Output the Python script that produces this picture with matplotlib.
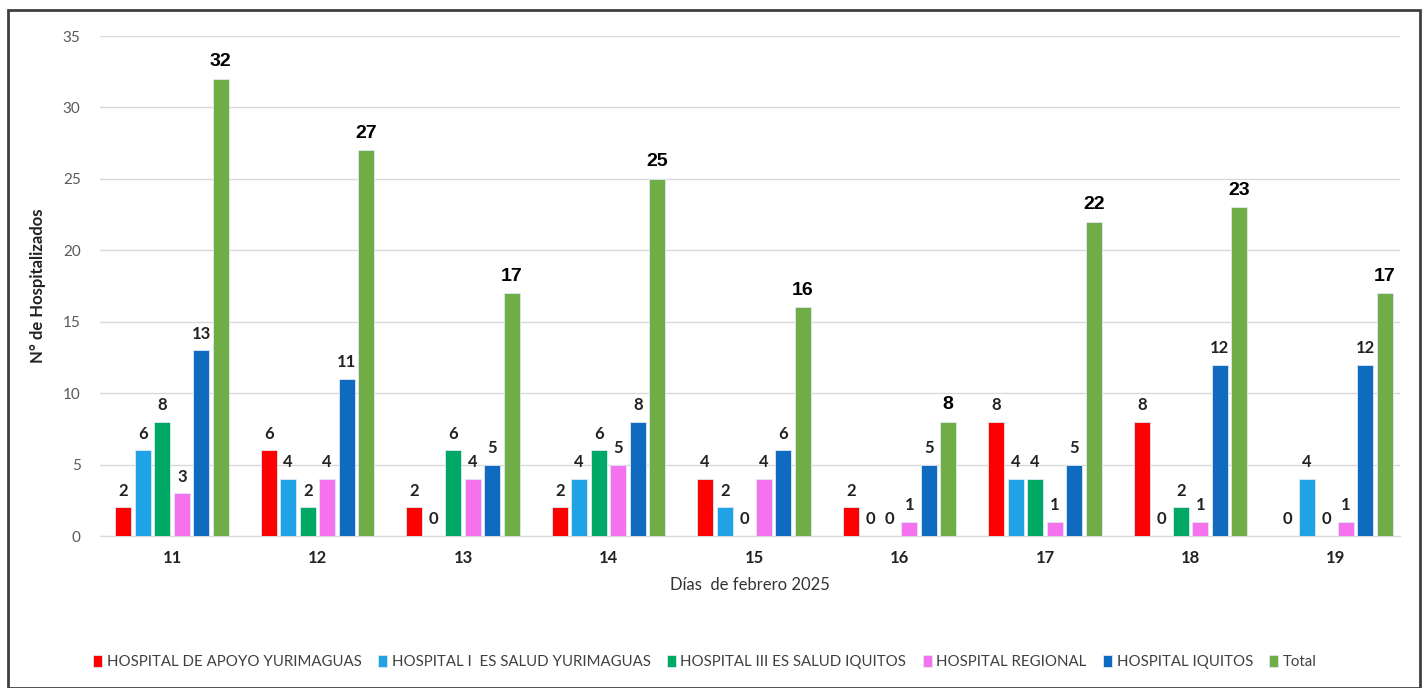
import numpy as np
import matplotlib
matplotlib.use('Agg')
import matplotlib.pyplot as plt
from matplotlib.patches import Rectangle

plt.rcParams['font.family'] = ['Lato', 'DejaVu Sans']

days = ['11', '12', '13', '14', '15', '16', '17', '18', '19']
series_names = ['HOSPITAL DE APOYO YURIMAGUAS', 'HOSPITAL I  ES SALUD YURIMAGUAS',
                'HOSPITAL III ES SALUD IQUITOS', 'HOSPITAL REGIONAL',
                'HOSPITAL IQUITOS', 'Total']
apoyo_yurimaguas = [2, 6, 2, 2, 4, 2, 8, 8, 0]
essalud_yurimaguas = [6, 4, 0, 4, 2, 0, 4, 0, 4]
essalud_iquitos = [8, 2, 6, 6, 0, 0, 4, 2, 0]
regional = [3, 4, 4, 5, 4, 1, 1, 1, 1]
iquitos = [13, 11, 5, 8, 6, 5, 5, 12, 12]
total = [32, 27, 17, 25, 16, 8, 22, 23, 17]
colors = ['#ff0000', '#1fa2e6', '#00a865', '#f472ee', '#0f6bbf', '#70ad47']

all_series = [apoyo_yurimaguas, essalud_yurimaguas, essalud_iquitos,
              regional, iquitos, total]

fig = plt.figure(figsize=(14.28, 6.88), dpi=100)
ax = fig.add_axes([100 / 1428, 1 - 536 / 688, 1300 / 1428, 500 / 688])

# frame around the whole chart
fig.patches.append(Rectangle((8 / 1428, 0.0), 1412 / 1428, 1 - 10 / 688,
                             transform=fig.transFigure, fill=False,
                             edgecolor='#404040', linewidth=2))

x = np.arange(len(days))
slot = 0.134
width = 0.11
for i, vals in enumerate(all_series):
    pos = x + (i - 2.5) * slot
    ax.bar(pos, vals, width, color=colors[i], label=series_names[i],
           edgecolor='#dfe9f5', linewidth=0.6, zorder=3)
    for p, v in zip(pos, vals):
        if i == 5:
            ax.text(p, v + 0.6, str(v), ha='center', va='bottom',
                    fontsize=14, fontweight='bold', family=['Liberation Sans'])
        else:
            ax.text(p, v + 0.6, str(v), ha='center', va='bottom',
                    fontsize=12, fontweight='bold', color='#222222')

ax.set_ylim(0, 35)
ax.set_xlim(-0.495, 8.44)
ax.set_yticks(range(0, 36, 5))
ax.yaxis.grid(True, color='#d9d9d9', linewidth=1, zorder=0)
ax.set_axisbelow(True)
for s in ['top', 'right', 'left']:
    ax.spines[s].set_visible(False)
ax.spines['bottom'].set_color('#d9d9d9')
ax.tick_params(axis='both', length=0)
ax.tick_params(axis='y', labelsize=11, labelcolor='#595959', pad=14)
ax.set_xticks(x)
ax.set_xticklabels(days, fontsize=12, fontweight='bold', color='#222222')
ax.tick_params(axis='x', pad=10)
ax.set_xlabel('Días  de febrero 2025', fontsize=12, color='#333333', labelpad=8)
ax.set_ylabel('N° de Hospitalizados', fontsize=12, fontweight='bold',
              color='#222222', labelpad=12)

fig.legend(loc='center', bbox_to_anchor=(705 / 1428, 1 - 662 / 688), ncol=6,
           frameon=False, fontsize=10.8, handlelength=0.6, handleheight=0.8,
           handletextpad=0.3, columnspacing=1.1, labelcolor='#404040')

fig.savefig('out.png', dpi=100, facecolor='white')
